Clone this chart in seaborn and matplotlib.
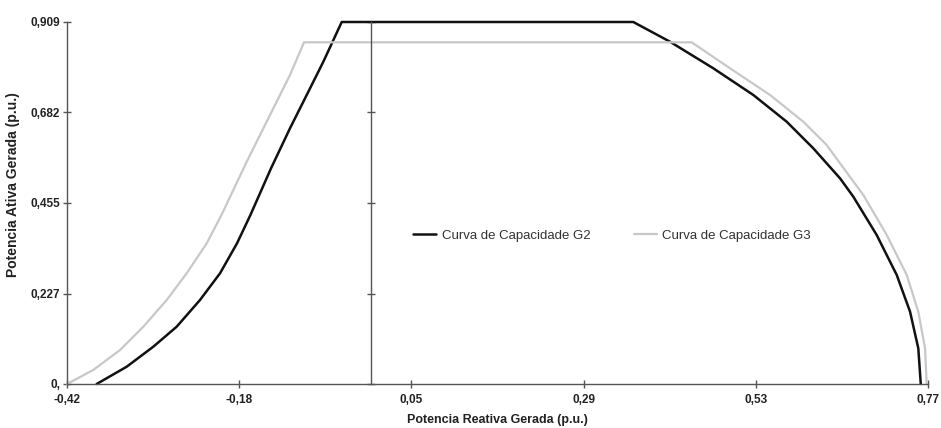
import numpy as np
import pandas as pd
import matplotlib
matplotlib.use("Agg")
import matplotlib.pyplot as plt
import seaborn as sns

# ---- data ----
q_g2 = [-0.379, -0.3375, -0.3007, -0.2684, -0.2362, -0.2085, -0.1850, -0.1665, -0.1380, -0.1118,
        -0.0887, -0.0657, -0.0403,
        0.3627, 0.4134, 0.4733, 0.5286, 0.5747, 0.6115, 0.6484, 0.6668, 0.6991, 0.7268,
        0.7452, 0.7566, 0.7600]
p_g2 = [0.0, 0.0434, 0.0937, 0.1439, 0.2109, 0.2780, 0.3533, 0.4244, 0.5416, 0.6421,
        0.7257, 0.8093, 0.909,
        0.909, 0.8595, 0.7927, 0.7257, 0.6586, 0.5918, 0.5165, 0.4703, 0.3741, 0.2737,
        0.1815, 0.0896, 0.0]

q_g3 = [-0.42, -0.3837, -0.3467, -0.3145, -0.2822, -0.2546, -0.2269, -0.2065, -0.1716, -0.1394,
        -0.1118, -0.0924,
        0.4434, 0.4964, 0.5517, 0.5977, 0.6300, 0.6484, 0.6806, 0.7130, 0.7406, 0.7566,
        0.7659, 0.7682]
p_g3 = [0.0, 0.0352, 0.0854, 0.1439, 0.2109, 0.2780, 0.3533, 0.4244, 0.5582, 0.6755,
        0.7759, 0.858,
        0.858, 0.7927, 0.7257, 0.6586, 0.6001, 0.5542, 0.4746, 0.3741, 0.2737, 0.1815,
        0.0896, 0.0]

series_names = ["Curva de Capacidade G2", "Curva de Capacidade G3"]
x_tick_labels = ["-0,42", "-0,18", "0,05", "0,29", "0,53", "0,77"]
y_tick_values = [0.0, 0.227, 0.455, 0.682, 0.909]
y_tick_labels = ["0,", "0,227", "0,455", "0,682", "0,909"]
x_min, x_max = -0.42, 0.77
y_min, y_max = 0.0, 0.909

df = pd.concat([
    pd.DataFrame({"q": q_g2, "p": p_g2, "serie": series_names[0]}),
    pd.DataFrame({"q": q_g3, "p": p_g3, "serie": series_names[1]}),
], ignore_index=True)

sns.set_style("white")
plt.rcParams["font.family"] = ["Liberation Sans", "DejaVu Sans"]

fig = plt.figure(figsize=(9.41, 4.28), dpi=100)
ax = fig.add_axes([67 / 941, 44 / 428, 861 / 941, 362 / 428])

colors = {series_names[0]: "#111111", series_names[1]: "#c8c8c8"}
widths = {series_names[0]: 1.8, series_names[1]: 1.6}
for name in series_names:
    sub = df[df["serie"] == name]
    sns.lineplot(data=sub, x="q", y="p", sort=False, estimator=None, ax=ax,
                 color=colors[name], linewidth=widths[name], label=name, clip_on=False)

ax.set_xlim(x_min, x_max)
ax.set_ylim(y_min, y_max)
ax.set_xticks(np.linspace(x_min, x_max, len(x_tick_labels)))
ax.set_xticklabels(x_tick_labels)
ax.set_yticks(y_tick_values)
ax.set_yticklabels(y_tick_labels)

spine_col = "#555555"
ax.spines["top"].set_visible(False)
ax.spines["right"].set_position(("data", 0.0))
for s in ["left", "bottom", "right"]:
    ax.spines[s].set_color(spine_col)
    ax.spines[s].set_linewidth(1.0)

ax.tick_params(axis="both", direction="inout", length=6, width=1.0, color=spine_col,
               labelsize=8.5, pad=2)
ax.tick_params(axis="y", left=True, right=True, labelright=False)
ax.tick_params(axis="x", bottom=True, pad=4)
for lab in ax.get_xticklabels() + ax.get_yticklabels():
    lab.set_fontweight("bold")
    lab.set_color("#222222")

ax.set_xlabel("Potencia Reativa Gerada (p.u.)", fontsize=9, fontweight="bold", color="#222222")
ax.set_ylabel("Potencia Ativa Gerada (p.u.)", fontsize=10, fontweight="bold", color="#222222")
ax.xaxis.set_label_coords(0.5, -0.083)
ax.yaxis.set_label_coords(-0.055, 0.55)

leg = ax.legend(loc="center", bbox_to_anchor=(0.633, 0.41), ncol=2, frameon=False,
                fontsize=9.5, handlelength=1.75, columnspacing=3.3, handletextpad=0.4)
for t in leg.get_texts():
    t.set_color("#333333")

fig.savefig("out.png", dpi=100)
